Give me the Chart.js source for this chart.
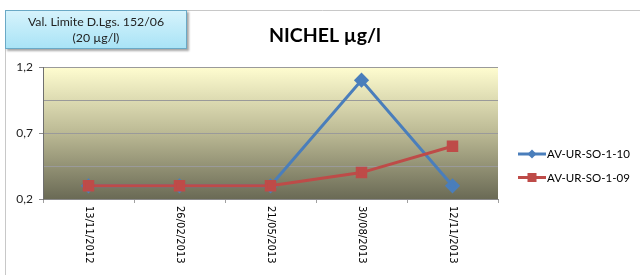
<!DOCTYPE html>
<html>
<head>
<meta charset="utf-8">
<script src="https://cdn.jsdelivr.net/npm/chart.js@4"></script>
<style>
html,body{margin:0;padding:0;background:#fff;}
#wrap{position:relative;width:640px;height:275px;}
canvas{position:absolute;left:0;top:0;}
#box{position:absolute;left:5px;top:10px;width:182px;height:39px;box-sizing:border-box;
 border:1px solid #6aa9c6;background:linear-gradient(#d6f3fc,#a9e3f6);
 box-shadow:2px 2px 2px rgba(0,0,0,0.35);font-family:Lato,'Open Sans',sans-serif;font-size:12.3px;
 color:#222;text-align:center;line-height:16px;padding-top:3px;}
</style>
</head>
<body>
<div id="wrap">
<canvas id="c" width="640" height="275"></canvas>
<div id="box">Val. Limite D.Lgs. 152/06<br>(20 µg/l)</div>
</div>
<script>
const categories = ["13/11/2012","26/02/2013","21/05/2013","30/08/2013","12/11/2013"];
const seriesNames = ["AV-UR-SO-1-10","AV-UR-SO-1-09"];
const series10 = [0.3,0.3,0.3,1.1,0.3];
const series09 = [0.3,0.3,0.3,0.4,0.6];
const yLabels = [0.2,0.7,1.2];
const titleText = "NICHEL µg/l";

const blue = "#4a7ebb", red = "#be4b48";

const decor = {
  id:'decor',
  beforeDraw(chart){
    const ctx = chart.ctx, a = chart.chartArea;
    ctx.save();
    ctx.strokeStyle = '#c8c8c8'; ctx.lineWidth = 1;
    ctx.beginPath();
    ctx.moveTo(5.5, 275); ctx.lineTo(5.5, 10.5); ctx.lineTo(640, 10.5);
    ctx.stroke();
    const g = ctx.createLinearGradient(0, a.top, 0, a.bottom);
    g.addColorStop(0, '#fffdd0');
    g.addColorStop(0.5, '#bbb994');
    g.addColorStop(1, '#6a6a55');
    ctx.fillStyle = g;
    ctx.fillRect(a.left, a.top, a.right - a.left, a.bottom - a.top);
    ctx.strokeStyle = '#b0b0b0';
    ctx.beginPath(); ctx.moveTo(a.left, a.top+0.5); ctx.lineTo(a.right, a.top+0.5); ctx.stroke();
    ctx.restore();
  },
  afterDraw(chart){
    const ctx = chart.ctx, a = chart.chartArea, xs = chart.scales.x;
    ctx.save();
    ctx.fillStyle = '#000';
    ctx.font = 'bold 19.5px Lato, "Open Sans", sans-serif';
    ctx.textAlign = 'center'; ctx.textBaseline = 'middle';
    ctx.fillText(titleText, 325, 36);
    ctx.font = '10px "DejaVu Sans", sans-serif';
    ctx.fillStyle = '#000';
    categories.forEach((c, i) => {
      const x = xs.getPixelForValue(i);
      ctx.save();
      ctx.translate(x, a.bottom + 7);
      ctx.rotate(Math.PI / 2);
      ctx.textAlign = 'left'; ctx.textBaseline = 'middle';
      ctx.fillText(c, 0, 0);
      ctx.restore();
    });
    const items = [[seriesNames[0], blue, 'diamond'], [seriesNames[1], red, 'square']];
    ctx.font = '11.5px Lato, "Open Sans", sans-serif';
    items.forEach((it, k) => {
      const y = 154 + k * 23.5;
      ctx.strokeStyle = it[1]; ctx.lineWidth = 3;
      ctx.beginPath(); ctx.moveTo(518, y); ctx.lineTo(546, y); ctx.stroke();
      ctx.fillStyle = it[1];
      if (it[2] === 'diamond') {
        ctx.beginPath(); ctx.moveTo(532, y-4.5); ctx.lineTo(536.5, y); ctx.lineTo(532, y+4.5); ctx.lineTo(527.5, y); ctx.closePath(); ctx.fill();
      } else {
        ctx.fillRect(527.5, y-4.5, 9, 9);
      }
      ctx.fillStyle = '#000'; ctx.textAlign = 'left'; ctx.textBaseline = 'middle';
      ctx.fillText(it[0], 547, y + 0.5);
    });
    ctx.restore();
  }
};

new Chart(document.getElementById('c'), {
  type: 'line',
  data: {
    labels: categories,
    datasets: [
      {label: seriesNames[0], data: series10, borderColor: blue, backgroundColor: blue,
       borderWidth: 3, pointStyle: 'rectRot', pointRadius: 5.5, pointHoverRadius: 5.5, tension: 0, order: 1},
      {label: seriesNames[1], data: series09, borderColor: red, backgroundColor: red,
       borderWidth: 3, pointStyle: 'rect', pointRadius: 6, pointHoverRadius: 6, tension: 0, order: 0}
    ]
  },
  options: {
    responsive: false, animation: false,
    layout: {padding: {left: 5, right: 142, top: 67, bottom: 0}},
    plugins: {legend: {display: false}, tooltip: {enabled: false}, title: {display: false}},
    scales: {
      x: {
        offset: true,
        grid: {drawOnChartArea: false, offset: true, tickLength: 4, color: '#a0a0a0'},
        border: {color: '#8a8a8a'},
        ticks: {display: false},
        afterFit: s => { s.height = 76; }
      },
      y: {
        min: 0.2, max: 1.2,
        grid: {color: '#9a9a9a', tickLength: 4,
          tickColor: c => yLabels.some(v => Math.abs(v - c.tick.value) < 1e-6) ? '#8c8c8c' : 'rgba(0,0,0,0)'},
        border: {color: '#6f6f6f'},
        ticks: {stepSize: 0.25, color: '#222', padding: 6,
          font: {family: 'Lato, "Open Sans", sans-serif', size: 12},
          callback: v => yLabels.some(t => Math.abs(t - v) < 1e-6) ? String(Math.round(v*10)/10).replace('.', ',') : ''},
        afterFit: s => { s.width = 38; }
      }
    }
  },
  plugins: [decor]
});
</script>
</body>
</html>
